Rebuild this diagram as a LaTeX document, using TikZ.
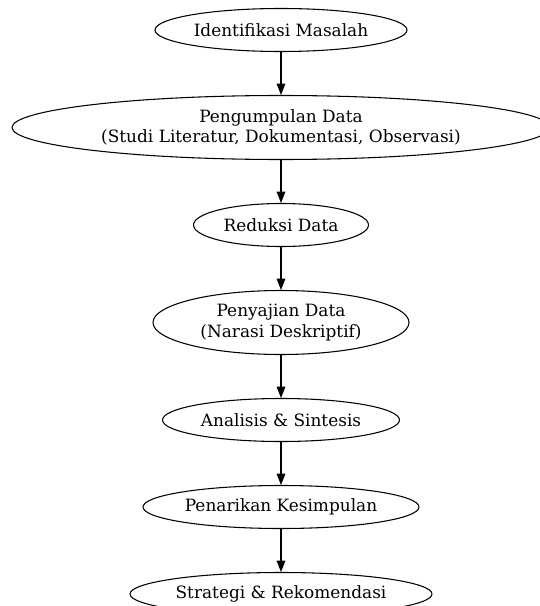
\documentclass[tikz,border=0pt]{standalone}
\usepackage{fontspec}
\setmainfont{DejaVu Serif}
\usetikzlibrary{shapes.geometric,arrows.meta}
\begin{document}
\begin{tikzpicture}[x=0.75pt,y=-0.75pt,
  stage/.style={draw=black,line width=0.8pt,ellipse,inner sep=0pt,align=center,
    font=\fontsize{12.7pt}{15.5pt}\selectfont},
  flow/.style={draw=black,line width=0.8pt,-{Triangle[length=8.5pt,width=6.5pt]}}]
\useasboundingbox (0,0) rectangle (539,606);
\node[stage,minimum width=252pt*0.75,minimum height=43pt*0.75] (a) at (281,30) {Identifikasi Masalah};
\node[stage,minimum width=538pt*0.75,minimum height=64pt*0.75] (b) at (281,127.5) {Pengumpulan Data\\(Studi Literatur, Dokumentasi, Observasi)};
\node[stage,minimum width=175pt*0.75,minimum height=43pt*0.75] (c) at (281,225) {Reduksi Data};
\node[stage,minimum width=256pt*0.75,minimum height=64pt*0.75] (d) at (281,322.5) {Penyajian Data\\(Narasi Deskriptif)};
\node[stage,minimum width=237pt*0.75,minimum height=43pt*0.75] (e) at (281,420) {Analisis \& Sintesis};
\node[stage,minimum width=276pt*0.75,minimum height=43pt*0.75] (f) at (281,507) {Penarikan Kesimpulan};
\node[stage,minimum width=302pt*0.75,minimum height=43pt*0.75] (g) at (281,594) {Strategi \& Rekomendasi};
\draw[flow] (a) -- (b);
\draw[flow] (b) -- (c);
\draw[flow] (c) -- (d);
\draw[flow] (d) -- (e);
\draw[flow] (e) -- (f);
\draw[flow] (f) -- (g);
\end{tikzpicture}
\end{document}
